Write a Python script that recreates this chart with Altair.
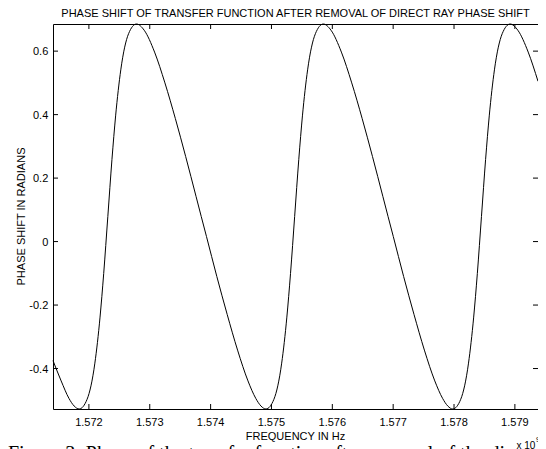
import altair as alt
import pandas as pd

# ---- data ----
freq_ghz = [
    1.571410, 1.571544, 1.571672, 1.571757,
    1.571840, 1.571970, 1.572098, 1.572183, 1.572243, 1.572311, 1.572379, 1.572439,
    1.572524, 1.572652, 1.572782, 1.572908, 1.573079, 1.573249, 1.573420, 1.573590,
    1.573761, 1.573846, 1.573932, 1.574102, 1.574273, 1.574443, 1.574614, 1.574742,
    1.574827,
    1.574910, 1.575040, 1.575168, 1.575253, 1.575313, 1.575381, 1.575449, 1.575509,
    1.575594, 1.575722, 1.575852, 1.575978, 1.576149, 1.576319, 1.576490, 1.576660,
    1.576831, 1.576916, 1.577002, 1.577172, 1.577343, 1.577513, 1.577684, 1.577812,
    1.577897,
    1.577980, 1.578110, 1.578238, 1.578323, 1.578383, 1.578451, 1.578519, 1.578579,
    1.578664, 1.578792, 1.578922, 1.579048, 1.579219, 1.579380,
]
phase_rad = [
    -0.375, -0.439, -0.494, -0.518,
    -0.5275, -0.497, -0.383, -0.238, -0.101, 0.079, 0.259, 0.396,
    0.541, 0.655, 0.6855, 0.666, 0.597, 0.500, 0.388, 0.268,
    0.142, 0.079, 0.016, -0.110, -0.230, -0.342, -0.439, -0.494,
    -0.518,
    -0.5275, -0.497, -0.383, -0.238, -0.101, 0.079, 0.259, 0.396,
    0.541, 0.655, 0.6855, 0.666, 0.597, 0.500, 0.388, 0.268,
    0.142, 0.079, 0.016, -0.110, -0.230, -0.342, -0.439, -0.494,
    -0.518,
    -0.5275, -0.497, -0.383, -0.238, -0.101, 0.079, 0.259, 0.396,
    0.541, 0.655, 0.6855, 0.666, 0.597, 0.505,
]
x_ticks = [1.572, 1.573, 1.574, 1.575, 1.576, 1.577, 1.578, 1.579]
x_tick_labels = ["1.572", "1.573", "1.574", "1.575", "1.576", "1.577", "1.578", "1.579"]
y_ticks = [-0.4, -0.2, 0.0, 0.2, 0.4, 0.6]
y_tick_labels = ["-0.4", "-0.2", "0", "0.2", "0.4", "0.6"]
x_domain = [1.57141, 1.57938]
y_domain = [-0.5275, 0.6855]

title_text = "PHASE SHIFT OF TRANSFER FUNCTION AFTER REMOVAL OF DIRECT RAY PHASE SHIFT"
x_title = "FREQUENCY IN Hz"
y_title = "PHASE SHIFT IN RADIANS"
caption_text = "Figure 3: Phase of the transfer function after removal of the direct"

# ---- layout / style ----
W, H = 485, 385
FONT = "Liberation Sans"
FS = 11
TL = 5  # inward tick length

df = pd.DataFrame({"freq": freq_ghz, "phase": phase_rad})
xt = pd.DataFrame({"freq": x_ticks, "label": x_tick_labels})
yt = pd.DataFrame({"phase": y_ticks, "label": y_tick_labels})
one = pd.DataFrame({"a": [0]})

xscale = alt.Scale(domain=x_domain, nice=False, zero=False)
yscale = alt.Scale(domain=y_domain, nice=False, zero=False)
X = alt.X("freq:Q", scale=xscale, axis=None)
Y = alt.Y("phase:Q", scale=yscale, axis=None)

line = alt.Chart(df).mark_line(color="black", strokeWidth=1, interpolate="monotone").encode(
    x=X, y=Y)

rule = dict(color="black", strokeWidth=1)
tick_bottom = alt.Chart(xt).mark_rule(**rule).encode(x=X, y=alt.value(H), y2=alt.value(H - TL))
tick_top = alt.Chart(xt).mark_rule(**rule).encode(x=X, y=alt.value(0), y2=alt.value(TL))
tick_left = alt.Chart(yt).mark_rule(**rule).encode(y=Y, x=alt.value(0), x2=alt.value(TL))
tick_right = alt.Chart(yt).mark_rule(**rule).encode(y=Y, x=alt.value(W), x2=alt.value(W - TL))

txt = dict(font=FONT, fontSize=FS, color="black", baseline="alphabetic")
x_labels = alt.Chart(xt).mark_text(align="center", **txt).encode(
    x=X, y=alt.value(H + 16.5), text="label:N")
y_labels = alt.Chart(yt).mark_text(align="right", dy=4, **txt).encode(
    y=Y, x=alt.value(-4.7), text="label:N")
x_title_m = alt.Chart(one).mark_text(text=x_title, align="center", **txt).encode(
    x=alt.value(W / 2), y=alt.value(H + 30.5))
y_title_m = alt.Chart(one).mark_text(text=y_title, align="center", angle=270, **txt).encode(
    x=alt.value(-28.5), y=alt.value(H / 2))
title_m = alt.Chart(one).mark_text(text=title_text, align="center", **txt).encode(
    x=alt.value(W / 2), y=alt.value(-7))

x10 = alt.Chart(one).mark_text(text="x 10", font=FONT, fontSize=10, align="left",
                               baseline="alphabetic", color="black").encode(
    x=alt.value(463.5), y=alt.value(H + 39.5))
nine = alt.Chart(one).mark_text(text="9", font=FONT, fontSize=7, align="left",
                                baseline="alphabetic", color="black").encode(
    x=alt.value(483), y=alt.value(H + 32.5))
caption = alt.Chart(one).mark_text(text=caption_text, font="Liberation Serif", fontSize=20,
                                   align="left", baseline="alphabetic", color="black").encode(
    x=alt.value(-45), y=alt.value(H + 50.5))

chart = alt.layer(
    line, tick_bottom, tick_top, tick_left, tick_right,
    x_labels, y_labels, x_title_m, y_title_m, title_m, caption, x10, nine,
).properties(
    width=W, height=H,
    padding={"left": 45, "top": 16, "right": 0, "bottom": 44},
    autosize=alt.AutoSizeParams(type="none"),
).configure_view(
    stroke="black", strokeWidth=1
)

chart.save("out.html", embed_options={"renderer": "svg", "actions": False})
